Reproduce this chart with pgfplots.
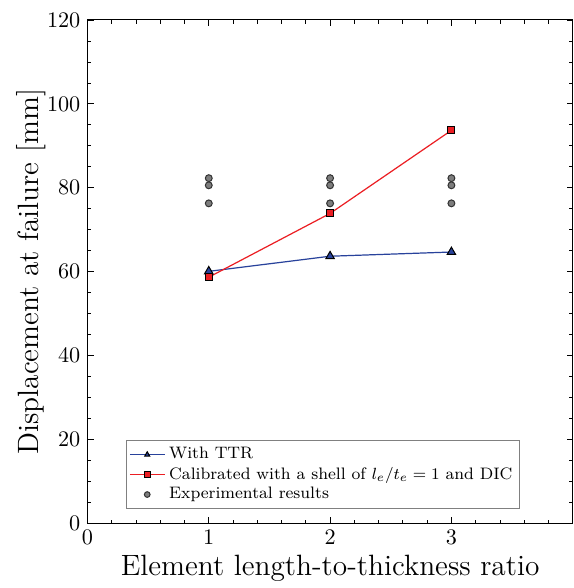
\documentclass[border=0pt]{standalone}
\usepackage{pgfplots}
\pgfplotsset{compat=1.18}
\definecolor{ttrblue}{RGB}{40,66,155}
\definecolor{calred}{RGB}{235,30,35}
\definecolor{expgray}{RGB}{125,125,125}

\begin{document}
\begin{tikzpicture}
\begin{axis}[
  scale only axis,
  width=239.5pt,
  height=248.5pt,
  xmin=0, xmax=4,
  ymin=0, ymax=120,
  xtick={0,1,2,3},
  minor xtick={0.2,0.4,...,3.8},
  ytick={0,20,...,120},
  minor ytick={5,10,...,115},
  tick align=inside,
  major tick length=3pt,
  minor tick length=1.8pt,
  tick style={black, line width=0.4pt},
  axis line style={black, line width=0.5pt},
  tick label style={font=\fontsize{10.8}{13}\selectfont},
  label style={font=\fontsize{14.5}{17}\selectfont},
  xlabel={Element length-to-thickness ratio},
  ylabel={Displacement at failure [mm]},
  xlabel style={yshift=2pt},
  ylabel style={yshift=-6.5pt},
  legend style={
    at={(0.079,0.028)}, anchor=south west,
    draw=gray, line width=0.5pt,
    font=\fontsize{8.2}{9.5}\selectfont,
    row sep=-1.5pt, inner sep=1.5pt,
    cells={anchor=west},
  },
  legend cell align=left,
  legend image post style={line width=0.6pt, mark size=1.4pt},
]
\addplot[ttrblue, line width=0.6pt, mark=triangle*, mark size=2.4pt,
  mark options={fill=ttrblue, draw=black, line width=0.5pt}]
  coordinates {(1,60.1) (2,63.7) (3,64.7)};
\addlegendentry{With TTR}
\addplot[calred, line width=0.6pt, mark=square*, mark size=1.7pt,
  mark options={fill=calred, draw=black, line width=0.5pt}]
  coordinates {(1,58.7) (2,73.9) (3,93.7)};
\addlegendentry{Calibrated with a shell of $l_e/t_e=1$ and DIC}
\addplot[only marks, mark=*, mark size=1.7pt,
  mark options={fill=expgray, draw=black!80, line width=0.5pt}]
  coordinates {(1,82.3) (1,80.6) (1,76.3)
               (2,82.3) (2,80.6) (2,76.3)
               (3,82.3) (3,80.6) (3,76.3)};
\addlegendentry{Experimental results}
\end{axis}
\path (current bounding box.north west) ++(-5pt,3pt);
\end{tikzpicture}
\end{document}
